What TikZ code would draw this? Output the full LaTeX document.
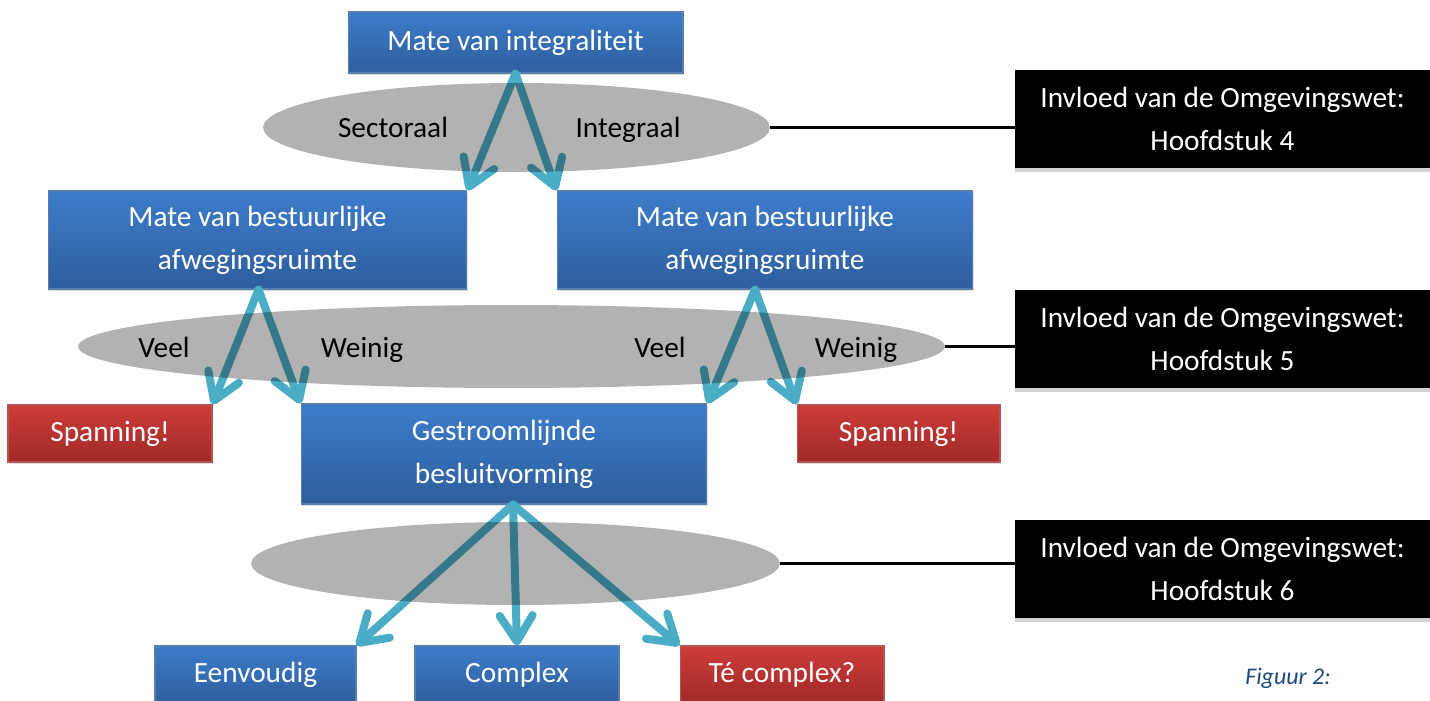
\documentclass[tikz,border=0pt]{standalone}
\usepackage{fontspec}
\setmainfont{Carlito}
\usetikzlibrary{%
  arrows.meta,%
  shapes.geometric,% wg. ellipse
  shadows%
}
\definecolor{boxblue}{RGB}{61,124,203}
\definecolor{boxblued}{RGB}{46,94,156}
\definecolor{boxred}{RGB}{205,60,57}
\definecolor{boxredd}{RGB}{160,42,40}
\definecolor{flowteal}{RGB}{75,172,198}
\definecolor{capblue}{RGB}{31,73,125}

\begin{document}
\begin{tikzpicture}
[x=0.02cm, y=-0.02cm,
font=\fontsize{16.7}{24.5}\selectfont,
bluebox/.style={rectangle, top color=boxblue, bottom color=boxblued, draw=boxblued!80, line width=0.6pt,
  text=white, align=center, inner sep=0pt,
  drop shadow={opacity=0.25, shadow xshift=0.6pt, shadow yshift=-1.2pt}},
redbox/.style={bluebox, top color=boxred, bottom color=boxredd, draw=boxredd!80},
blackbox/.style={rectangle, fill=black, text=white, align=center, inner sep=0pt,
  minimum width=8.3cm, minimum height=1.96cm,
  drop shadow={opacity=0.35, shadow xshift=0pt, shadow yshift=-2pt}},
choice/.style={ellipse, fill=black, fill opacity=0.3, inner sep=0pt},
answer/.style={text height=1.55ex, text depth=0.5ex, inner sep=0pt},
flow/.style={draw=flowteal, line width=0.16cm, line cap=round,
  -{Straight Barb[length=0.52cm, width=0.66cm, line cap=round, round]}},
link/.style={draw=black, line width=1.7pt}]

\useasboundingbox (0,0) rectangle (1430,700);
\clip (0,0) rectangle (1430,700);

% boxes
\node[bluebox, minimum width=6.7cm, minimum height=1.22cm] (integ) at (515.5,42.5) {Mate van integraliteit};
\node[bluebox, minimum width=8.38cm, minimum height=1.96cm] (bestL) at (257.5,240) {Mate van bestuurlijke\\afwegingsruimte};
\node[bluebox, minimum width=8.32cm, minimum height=1.96cm] (bestR) at (765,240) {Mate van bestuurlijke\\afwegingsruimte};
\node[redbox, minimum width=4.08cm, minimum height=1.14cm] (spanL) at (110,433.5) {Spanning!};
\node[bluebox, minimum width=8.12cm, minimum height=2cm] (gestr) at (504,454) {Gestroomlijnde\\besluitvorming};
\node[redbox, minimum width=4.06cm, minimum height=1.14cm] (spanR) at (898.5,433.5) {Spanning!};
\node[bluebox, minimum width=4.02cm, minimum height=1.14cm] (eenv) at (255.5,674.5) {Eenvoudig};
\node[bluebox, minimum width=4.08cm, minimum height=1.14cm] (compl) at (517,674.5) {Complex};
\node[redbox, minimum width=4.08cm, minimum height=1.14cm] (tecompl) at (782,674.5) {Té complex?};

\node[blackbox] (inv4) at (1222.5,119) {Invloed van de Omgevingswet:\\Hoofdstuk 4};
\node[blackbox] (inv5) at (1222.5,339) {Invloed van de Omgevingswet:\\Hoofdstuk 5};
\node[blackbox] (inv6) at (1222.5,569) {Invloed van de Omgevingswet:\\Hoofdstuk 6};

% arrows
\draw[flow] (integ.south) -- (bestL.north east);
\draw[flow] (integ.south) -- (bestR.north west);
\draw[flow] ([xshift=0.02cm]bestL.south) -- (spanL.north east);
\draw[flow] ([xshift=0.02cm]bestL.south) -- (gestr.north west);
\draw[flow] ([xshift=-0.2cm]bestR.south) -- (gestr.north east);
\draw[flow] ([xshift=-0.2cm]bestR.south) -- (spanR.north west);
\draw[flow] ([xshift=0.18cm]gestr.south) -- (eenv.north east);
\draw[flow] ([xshift=0.18cm]gestr.south) -- (compl.north);
\draw[flow] ([xshift=0.18cm]gestr.south) -- (tecompl.north west);

% ellipses over the arrows
\node[choice, minimum width=10.14cm, minimum height=1.78cm] (ell1) at (516.5,127.5) {};
\node[choice, minimum width=17.34cm, minimum height=1.66cm] (ell2) at (511.5,346.5) {};
\node[choice, minimum width=10.58cm, minimum height=1.66cm] (ell3) at (515.5,563.5) {};

\node[answer] (sect) at (393,133) {Sectoraal};
\node[answer] (integr) at (628,133) {Integraal};
\node[answer] (veelL) at (164,353) {Veel};
\node[answer] (weinL) at (362,353) {Weinig};
\node[answer] (veelR) at (660,353) {Veel};
\node[answer] (weinR) at (856,353) {Weinig};

\draw[link] (ell1.east) -- (ell1.east -| inv4.west);
\draw[link] (ell2.east) -- (ell2.east -| inv5.west);
\draw[link] (ell3.east) -- (ell3.east -| inv6.west);

\node[text=capblue, font=\fontsize{13.6}{16}\selectfont\itshape] (fig) at (1288,678) {Figuur 2:};
\end{tikzpicture}
\end{document}
